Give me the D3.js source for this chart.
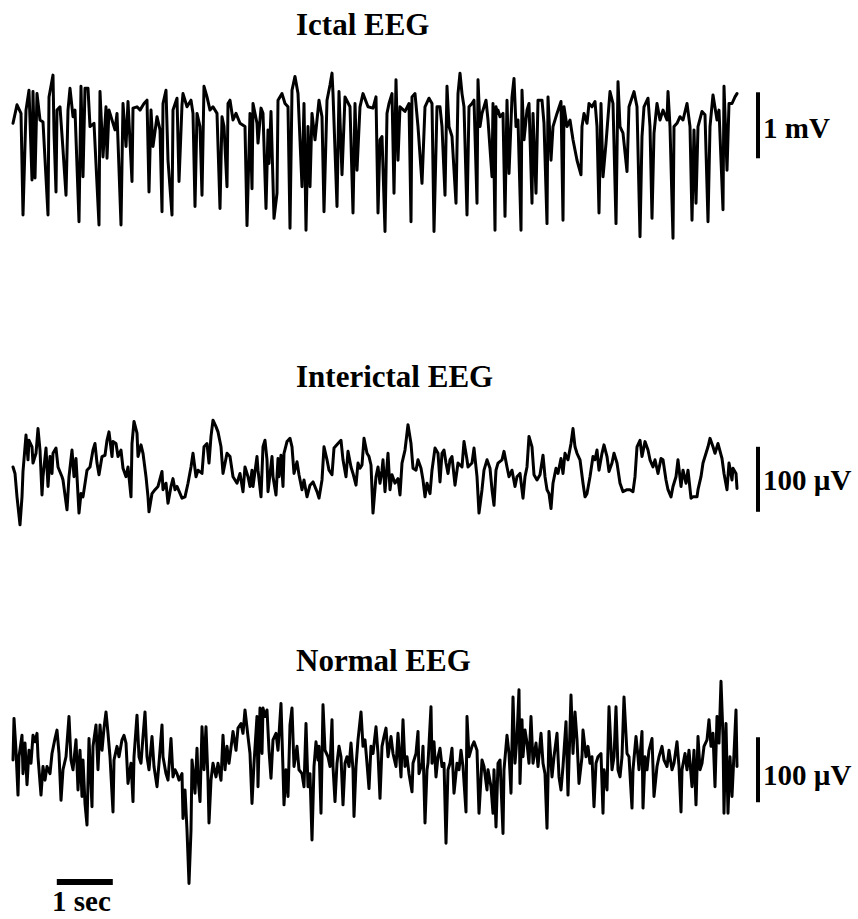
<!DOCTYPE html>
<html><head><meta charset="utf-8">
<script src="https://cdn.jsdelivr.net/npm/d3@7"></script>
<style>html,body{margin:0;padding:0;background:#fff;}</style>
</head><body><div id="chart"></div>
<script>
// ---------------- DATA ----------------
// Samples digitised at 56 points per second; pairs are [sample index, amplitude]
const SAMPLE_RATE = 56;
const panelTitles = ["Ictal EEG", "Interictal EEG", "Normal EEG"];
const amplitudeBarLabels = ["1 mV", "100 \u00B5V", "100 \u00B5V"];
const amplitudeBarValues = [1, 100, 100];   // mV, µV, µV
const timeBarLabel = "1 sec";
const timeBarSeconds = 1;

// Ictal EEG (mV)
const ictalTrace = [
[1,-0.05],[5,0.23],[9,0.10],[11,-1.44],[14,0.15],[17,0.45],[20,-0.91],[21,0.43],[23,-0.88],[25,0.40],
[28,0.00],[31,-0.03],[36,-1.44],[37,0.35],[41,0.68],[42,-0.18],[44,-1.09],[45,0.15],[48,0.20],[51,-0.45],
[54,-1.14],[56,0.15],[58,0.48],[61,0.05],[63,0.15],[67,-1.54],[69,0.51],[71,-0.86],[73,0.48],[76,0.48],
[78,-0.10],[82,-0.05],[87,-1.59],[88,0.43],[91,-0.56],[94,0.20],[95,-0.58],[97,0.15],[103,-0.15],[105,0.10],
[109,-1.59],[111,0.25],[114,-0.40],[116,0.28],[120,-0.93],[121,0.18],[125,0.20],[128,0.15],[132,0.25],[135,0.30],
[137,-1.09],[139,0.15],[141,-0.40],[145,0.05],[148,-0.15],[150,-1.39],[151,0.25],[154,0.45],[156,-0.61],[160,-1.44],
[161,0.15],[165,0.33],[167,-0.93],[170,0.23],[171,0.40],[175,0.20],[179,0.30],[181,0.10],[183,-1.31],[185,0.10],
[188,-0.10],[190,-1.14],[192,0.51],[195,0.35],[198,0.15],[201,0.20],[205,0.10],[208,-1.34],[210,0.05],[212,-0.10],
[215,-1.01],[216,0.25],[218,0.30],[221,0.00],[224,0.10],[228,-0.05],[233,-0.10],
[235,-1.60],[238,0.10],[240,-1.04],[241,0.25],[245,-0.05],[246,-0.35],[249,0.18],[251,0.10],[254,-1.34],[256,-0.15],
[257,-0.66],[259,0.13],[262,-1.49],[265,-1.11],[266,0.30],[270,0.40],[273,0.25],[276,0.20],[278,-1.64],[280,0.45],
[283,0.66],[286,0.40],[290,-1.01],[292,0.25],[294,-1.67],[296,-0.10],[298,-1.01],[300,0.10],[303,-0.30],[307,0.30],
[310,0.05],[312,-1.39],[315,0.30],[318,0.53],[320,0.71],[321,0.40],[325,-1.31],[327,0.43],[330,-0.83],[333,0.35],
[338,0.20],[341,-1.41],[343,0.25],[345,-0.76],[348,0.20],[351,0.40],[356,0.20],[361,0.18],[364,0.35],[366,-1.41],
[368,-0.30],[370,-0.25],[373,-1.69],[375,0.10],[377,0.25],[380,0.40],[382,-1.11],[384,0.61],[386,-0.61],[388,0.20],
[393,0.13],[397,0.25],[399,-1.54],[400,0.35],[403,0.40],[406,-0.10],[410,-0.96],[413,0.20],[417,0.33],[420,0.25],
[422,-1.69],[425,0.20],[428,0.20],[430,-0.10],[433,-1.14],[435,0.51],[437,-0.10],[440,-0.25],[444,-1.26],[446,0.40],
[448,0.71],[450,0.40],[452,0.20],[455,-1.44],[457,0.20],[460,0.25],[462,0.30],[465,-1.26],[466,0.61],[468,-0.10],
[470,0.10],[474,0.30],[476,0.00],[480,-0.86],[481,0.25],[483,-1.67],
[484,0.20],[485,0.10],[486,0.15],[488,0.05],[491,0.10],[493,-1.46],[495,0.30],[497,-0.81],[500,0.35],[502,0.63],
[504,-0.10],[506,0.00],[509,-1.67],[510,0.45],[512,-0.30],[515,0.15],[517,0.25],[520,-1.26],[521,0.10],[524,-1.11],
[526,0.30],[530,0.30],[532,-0.05],[535,-1.57],[536,0.35],[539,-0.61],[541,-0.10],[545,0.10],[549,0.28],[551,-1.52],
[552,0.20],[555,-0.10],[558,0.00],[561,-0.30],[565,-0.61],[569,-0.83],[570,-0.10],[572,0.10],[575,-0.05],[577,0.25],
[580,0.20],[583,0.28],[585,-0.10],[587,-1.41],[589,0.25],[591,-0.86],[594,-0.35],[598,0.43],[601,0.25],[604,-1.57],
[606,0.58],[608,-0.10],[611,-0.20],[615,-0.78],[617,0.20],[622,0.43],[625,0.20],[628,-1.77],[630,-0.25],[632,0.20],
[636,0.33],[638,-0.10],[640,-1.49],[642,-0.20],[645,0.25],[648,0.00],[651,0.15],[655,0.00],[656,0.43],[658,-0.10],
[661,-1.79],[662,-0.10],[665,-0.05],[668,0.05],[671,0.00],[675,0.25],[678,-0.10],[680,-1.52],[682,-0.15],[684,-1.26],
[686,-0.10],[690,0.13],[693,0.08],[696,-1.54],[698,-0.10],[701,0.38],[705,0.00],[707,0.15],[711,-1.36],[712,0.51],
[715,-0.76],[717,0.25],[720,0.25],[723,0.35],[725,0.40]
];

// Interictal EEG (µV)
const interictalTrace = [
[1,-3],[3,-13],[5,-49],[8,-92],[10,-49],[11,-10],[14,46],[16,8],[17,38],[20,28],
[21,3],[24,18],[26,56],[28,23],[30,-46],[31,-18],[34,26],[36,-33],[38,13],[40,-13],
[41,18],[44,26],[46,-3],[50,-18],[51,-23],[55,-69],[57,-18],[60,23],[62,-18],[64,10],
[65,-18],[67,-74],[69,-44],[71,-49],[75,-8],[78,-3],[81,23],[83,33],[85,3],[87,-15],
[90,13],[93,15],[95,38],[97,51],[100,13],[101,36],[104,33],[106,13],[109,23],[111,-5],
[114,-18],[116,-3],[119,-49],[120,33],[122,67],[125,49],[126,13],[129,31],[131,18],[134,-18],
[136,-49],[137,-72],[140,-44],[143,-38],[146,-33],[150,-10],[151,-38],[154,-28],[156,-59],[159,-33],
[161,-21],[163,-38],[165,-33],[170,-51],[173,-49],[176,-28],[179,-3],[181,18],[184,-18],[186,-8],
[190,-13],[192,28],[195,33],[197,3],[199,44],[201,69],[204,59],[206,51],[209,28],[211,-13],
[215,18],[218,13],[221,-18],[223,-23],[225,-28],[228,-13],[231,-41],[233,-3],
[236,-18],[238,-33],[240,-8],[241,-33],[245,13],[246,-8],[249,-49],[251,28],[253,38],[255,8],
[256,-41],[260,13],[261,-18],[264,-46],[266,10],[267,-18],[269,15],[271,-33],[272,18],[275,36],
[278,41],[280,28],[282,-13],[285,5],[287,-15],[290,-38],[292,-23],[295,-49],[298,-31],[301,-26],
[305,-41],[307,-51],[310,-23],[312,28],[315,8],[317,-8],[320,-15],[322,26],[326,33],[329,38],
[331,8],[334,-18],[336,21],[339,-3],[341,-13],[344,-31],[346,3],[348,-5],[350,0],[352,41],
[355,18],[357,13],[359,0],[361,-74],[364,-18],[366,-3],[368,-28],[370,-8],[371,8],[373,-41],
[376,18],[378,-38],[380,-15],[383,-28],[386,-21],[388,-46],[390,3],[393,23],[396,62],[399,33],
[401,-5],[404,-8],[406,8],[409,-5],[411,-23],[413,-49],[415,-28],[418,-44],[420,-8],[423,26],
[426,18],[428,-26],[430,18],[432,23],[434,3],[436,-13],[438,8],[440,13],[443,-31],[446,3],
[450,-3],[452,36],[455,8],[456,-3],[460,3],[462,26],[465,-18],[467,-74],[470,-38],[472,-8],
[475,8],[478,-5],[480,-38],[482,-62],[484,-8],[486,3],[490,8],[492,21],[495,-3],[497,-18],
[500,-8],[503,-33],[505,-18],[508,-13],[511,-51],[513,-18],[515,-3],[517,44],[520,28],[522,-15],
[525,-23],[528,-15],[531,15],[533,-18],[535,-38],[537,-44],[539,-67],[541,-28],[544,-5],[546,-13],
[549,10],[551,-13],[553,18],[556,8],[559,33],[561,56],[563,28],[565,18],[568,8],[571,-28],
[573,-49],[575,-44],[578,-18],[581,13],[583,8],[585,23],[587,-8],[590,18],[592,31],[595,13],
[597,-10],[600,3],[602,18],[605,3],[608,-28],[611,-41],[615,-38],[618,-38],[621,-41],[623,-18],
[625,28],[628,38],[630,13],[633,36],[636,23],[638,8],[641,-3],[643,8],[646,-13],[649,10],
[651,8],[654,-23],[656,-38],[659,-49],[661,-33],[664,-18],[666,8],[669,-33],[671,-8],[674,-28],
[676,-8],[679,-51],[681,-49],[685,-49],[686,-38],[689,-18],[691,3],[694,18],[696,28],[698,41],
[701,28],[703,18],[706,33],[710,10],[712,-13],[715,-38],[717,3],[720,-23],[721,-5],[724,-13],[725,-36]
];

// Normal EEG (µV)
const normalTrace = [
[1,0],[2,64],[4,15],[6,-54],[7,5],[10,38],[11,-21],[13,26],[15,-38],[17,15],
[19,-5],[21,38],[23,28],[25,41],[26,5],[29,-54],[31,-10],[33,-31],[35,-10],[38,-21],
[40,10],[43,33],[45,46],[47,10],[49,-62],[51,-15],[54,5],[57,67],[59,0],[61,-15],
[64,31],[66,-46],[68,15],[70,-56],[71,0],[73,-67],[75,-100],[77,33],[80,-72],[81,21],
[84,54],[86,-15],[88,54],[90,15],[92,49],[94,74],[96,41],[98,5],[101,-80],[102,0],
[105,21],[107,5],[110,31],[112,38],[114,26],[116,-36],[119,-5],[121,-64],[122,5],[125,69],
[127,5],[129,-5],[131,36],[133,74],[135,5],[137,-15],[140,36],[142,-10],[145,-41],[147,-5],
[150,54],[151,5],[154,-21],[156,-31],[159,33],[161,-26],[163,-15],[165,-21],[167,-31],[170,-21],
[171,-90],[173,-46],[175,-108],[177,-190],[179,-108],[180,0],[181,-15],[183,-51],[185,18],[186,-26],
[188,-64],[190,51],[192,-15],[194,51],[196,-31],[197,-97],[199,-31],[201,-5],[204,-26],[206,-5],
[209,-31],[211,38],[213,-15],[215,21],[217,-5],[220,31],[221,44],[224,15],[226,49],[229,56],
[231,41],[233,77],
[236,36],[238,10],[240,-67],[242,-5],[245,67],[246,-41],[248,80],[250,10],[251,80],[253,67],
[255,77],[257,15],[259,-28],[261,31],[264,41],[266,15],[269,87],[271,-15],[272,-69],[274,-15],
[276,-56],[278,54],[280,80],[282,-10],[285,21],[287,-15],[290,-21],[292,-41],[294,56],[296,-41],
[298,-21],[300,-123],[302,-10],[304,28],[306,0],[307,21],[309,-82],[311,85],[313,15],[316,5],
[318,-10],[320,62],[321,-10],[323,-64],[325,-5],[327,21],[329,5],[331,-69],[333,-5],[335,5],
[337,-10],[339,26],[341,-15],[342,-87],[344,-10],[346,31],[349,74],[351,21],[353,31],[355,-5],
[357,-44],[359,21],[361,10],[364,51],[366,10],[368,-59],[370,21],[372,36],[374,49],[376,5],
[379,36],[381,10],[384,-10],[386,41],[389,-26],[391,62],[393,-10],[395,5],[397,-21],[400,-49],
[401,-5],[404,10],[406,44],[407,-21],[410,-5],[411,21],[413,-97],[415,-15],[416,-5],[419,82],
[420,-5],[422,28],[424,-26],[426,5],[428,18],[430,-10],[432,-5],[434,-128],[436,-15],[438,-5],
[440,18],[442,-51],[445,-5],[447,-15],[449,15],[451,-10],[454,-80],[455,67],[457,5],[460,21],
[462,28],[465,15],[467,-82],[470,0],[472,-10],[475,-46],[476,-15],[479,-41],[481,-82],
[482,-15],[484,-103],[486,-5],[488,0],[491,-113],[492,-15],[495,38],[497,10],[499,-51],[501,97],
[503,-5],[505,36],[507,108],[508,-36],[510,62],[511,5],[513,46],[515,26],[517,-5],[519,67],
[521,-5],[524,26],[526,-10],[529,41],[531,-5],[533,-21],[535,-105],[537,44],[540,-26],[542,5],
[545,41],[547,-26],[549,-46],[551,-10],[554,59],[556,-54],[559,100],[561,10],[563,74],[565,31],
[567,-36],[570,5],[571,46],[574,5],[576,21],[578,-5],[580,5],[582,-72],[584,-5],[586,5],
[589,10],[591,-82],[592,-15],[595,-46],[597,82],[600,-15],[602,5],[604,82],[606,-15],[608,-26],
[610,5],[612,97],[615,10],[617,5],[620,-74],[621,-15],[624,36],[626,5],[627,-15],[630,44],
[631,-74],[633,5],[635,-15],[637,15],[640,33],[642,-56],[645,-10],[647,5],[650,21],[652,0],
[655,-10],[657,15],[660,-15],[662,-5],[665,28],[667,-10],[669,-80],[670,-15],[673,10],[675,-15],
[677,15],[680,-41],[682,15],[684,-69],[686,36],[688,-15],[690,-5],[692,21],[695,31],[697,62],
[699,21],[701,41],[703,-41],[705,67],[707,26],[709,121],[711,36],[712,-82],[714,56],[716,-82],
[718,5],[720,-56],[722,10],[724,77],[725,-10]
];

// ---------------- CHART ----------------
const W = 858, H = 919;
const svg = d3.select("#chart").append("svg").attr("width", W).attr("height", H)
  .style("font-family", "'Liberation Serif','Times New Roman',serif");

const totalSeconds = 725 / SAMPLE_RATE;
const x = d3.scaleLinear().domain([0, totalSeconds]).range([12, 737]);

const panels = [
  {data: ictalTrace, y: d3.scaleLinear().domain([-1.8, 0.8]).range([238.8, 67.2]), bar: [-0.58, 0.42], titleY: 35, labelY: 138},
  {data: interictalTrace, y: d3.scaleLinear().domain([-100, 100]).range([530, 400]), bar: [-72, 28], titleY: 387, labelY: 490},
  {data: normalTrace, y: d3.scaleLinear().domain([-200, 200]).range([890, 630]), bar: [-65, 35], titleY: 671, labelY: 785}
];

const barX = 758;
panels.forEach((p, i) => {
  const line = d3.line().x(d => x(d[0] / SAMPLE_RATE)).y(d => p.y(d[1]));
  svg.append("path").datum(p.data).attr("d", line)
    .attr("fill", "none").attr("stroke", "#000").attr("stroke-width", 3)
    .attr("stroke-linejoin", "round").attr("stroke-linecap", "round");

  svg.append("text").attr("x", 296).attr("y", p.titleY)
    .attr("font-size", 31).attr("font-weight", "bold").text(panelTitles[i]);

  // amplitude scale bar
  svg.append("line").attr("x1", barX).attr("x2", barX)
    .attr("y1", p.y(p.bar[0])).attr("y2", p.y(p.bar[0] + amplitudeBarValues[i]))
    .attr("stroke", "#000").attr("stroke-width", 4);
  svg.append("text").attr("x", 763).attr("y", p.labelY)
    .attr("font-size", 29).attr("font-weight", "bold").text(amplitudeBarLabels[i]);
});

// time scale bar
svg.append("line").attr("x1", x(0.8)).attr("x2", x(0.8 + timeBarSeconds))
  .attr("y1", 882).attr("y2", 882).attr("stroke", "#000").attr("stroke-width", 6);
svg.append("text").attr("x", 52).attr("y", 911)
  .attr("font-size", 29).attr("font-weight", "bold").text(timeBarLabel);
</script>
</body></html>
